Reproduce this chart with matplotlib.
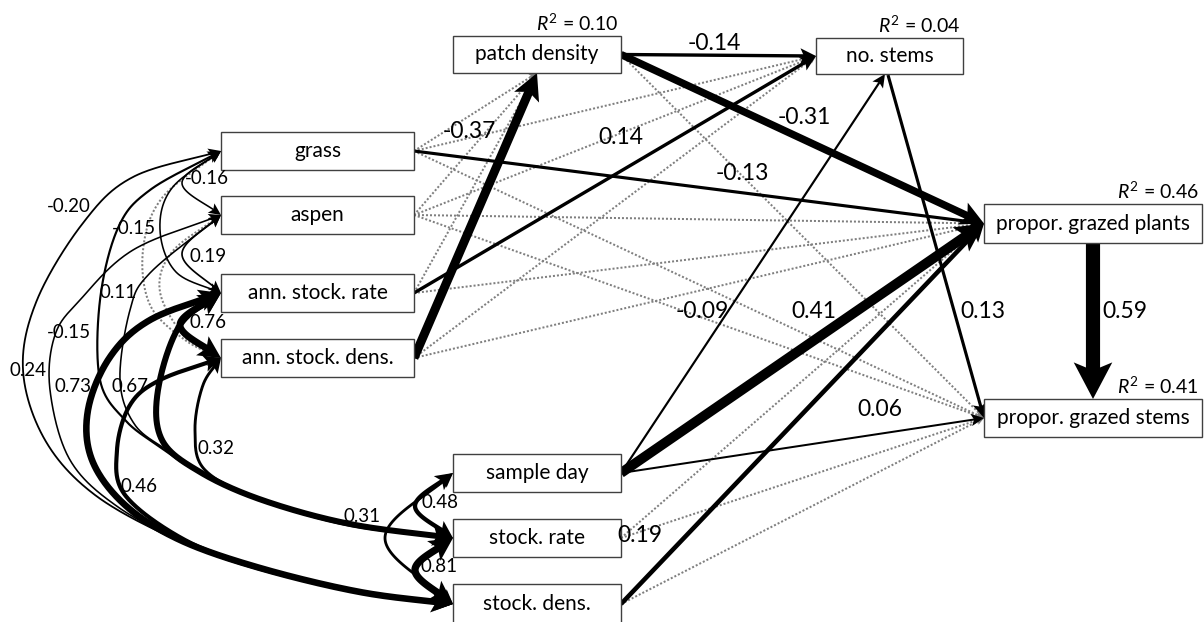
import numpy as np
import matplotlib
matplotlib.use("Agg")
import matplotlib.pyplot as plt
from matplotlib.patches import Rectangle, Polygon

plt.rcParams['font.family'] = ['Lato', 'DejaVu Sans']
plt.rcParams['mathtext.fontset'] = 'custom'
plt.rcParams['mathtext.it'] = 'Lato:italic'
plt.rcParams['mathtext.rm'] = 'Lato'

# ---- data -------------------------------------------------------------
variables = ['grass', 'aspen', 'ann. stock. rate', 'ann. stock. dens.',
             'patch density', 'no. stems', 'propor. grazed plants',
             'propor. grazed stems', 'sample day', 'stock. rate', 'stock. dens.']

r2_vars = ['patch density', 'no. stems', 'propor. grazed plants', 'propor. grazed stems']
r2_vals = [0.10, 0.04, 0.46, 0.41]

# directed paths (None = not significant, drawn dotted)
path_from = ['grass', 'grass', 'grass', 'grass',
             'aspen', 'aspen', 'aspen', 'aspen',
             'ann. stock. rate', 'ann. stock. rate', 'ann. stock. rate',
             'ann. stock. dens.', 'ann. stock. dens.', 'ann. stock. dens.',
             'patch density', 'patch density', 'patch density',
             'no. stems', 'propor. grazed plants',
             'sample day', 'sample day', 'sample day',
             'stock. rate', 'stock. rate',
             'stock. dens.', 'stock. dens.']
path_to = ['patch density', 'no. stems', 'propor. grazed plants', 'propor. grazed stems',
           'patch density', 'no. stems', 'propor. grazed plants', 'propor. grazed stems',
           'patch density', 'no. stems', 'propor. grazed plants',
           'patch density', 'no. stems', 'propor. grazed plants',
           'no. stems', 'propor. grazed plants', 'propor. grazed stems',
           'propor. grazed stems', 'propor. grazed stems',
           'no. stems', 'propor. grazed plants', 'propor. grazed stems',
           'propor. grazed plants', 'propor. grazed stems',
           'propor. grazed plants', 'propor. grazed stems']
path_coef = [None, None, -0.13, None,
             None, None, None, None,
             None, 0.14, None,
             -0.37, None, None,
             -0.14, -0.31, None,
             0.13, 0.59,
             -0.09, 0.41, 0.06,
             None, None,
             0.19, None]

# correlations between exogenous variables
corr_a = ['grass', 'aspen', 'ann. stock. rate', 'grass', 'grass', 'aspen',
          'sample day', 'stock. rate', 'sample day',
          'grass', 'grass', 'aspen', 'aspen',
          'ann. stock. rate', 'ann. stock. rate', 'ann. stock. dens.', 'ann. stock. dens.']
corr_b = ['aspen', 'ann. stock. rate', 'ann. stock. dens.', 'ann. stock. rate',
          'ann. stock. dens.', 'ann. stock. dens.',
          'stock. rate', 'stock. dens.', 'stock. dens.',
          'stock. dens.', 'stock. rate', 'stock. dens.', 'stock. rate',
          'stock. rate', 'stock. dens.', 'stock. rate', 'stock. dens.']
corr_r = [-0.16, 0.19, 0.76, -0.15, None, None,
          0.48, 0.81, 0.31,
          -0.20, 0.24, -0.15, 0.11,
          0.67, 0.73, 0.32, 0.46]

# ---- layout (pixel space, y down) ------------------------------------
boxes = {
    'grass': (221, 132, 414, 170),
    'aspen': (221, 196, 414, 234),
    'ann. stock. rate': (221, 274, 414, 312),
    'ann. stock. dens.': (221, 339, 414, 377),
    'patch density': (453, 36, 621, 73),
    'no. stems': (816, 38, 963, 74),
    'propor. grazed plants': (984, 204, 1202, 243),
    'propor. grazed stems': (984, 399, 1202, 437),
    'sample day': (453, 454, 621, 492),
    'stock. rate': (453, 519, 621, 557),
    'stock. dens.': (453, 584, 621, 624),
}

path_label_xy = {
    ('patch density', 'no. stems'): (714, 43),
    ('patch density', 'propor. grazed plants'): (804, 118),
    ('ann. stock. dens.', 'patch density'): (469, 132),
    ('ann. stock. rate', 'no. stems'): (621, 137),
    ('grass', 'propor. grazed plants'): (742, 173),
    ('sample day', 'no. stems'): (702, 312),
    ('sample day', 'propor. grazed plants'): (814, 312),
    ('no. stems', 'propor. grazed stems'): (983, 312),
    ('propor. grazed plants', 'propor. grazed stems'): (1125, 312),
    ('sample day', 'propor. grazed stems'): (880, 410),
    ('stock. dens.', 'propor. grazed plants'): (640, 535),
}

corr_waypoints = {
    ('grass', 'aspen'): [(182, 183)],
    ('aspen', 'ann. stock. rate'): [(182, 254)],
    ('ann. stock. rate', 'ann. stock. dens.'): [(180, 325)],
    ('grass', 'ann. stock. rate'): [(172, 188), (160, 230), (176, 272)],
    ('grass', 'ann. stock. dens.'): [(162, 198), (143, 250), (150, 305), (185, 340)],
    ('aspen', 'ann. stock. dens.'): [(172, 252), (160, 292), (186, 338)],
    ('sample day', 'stock. rate'): [(415, 506)],
    ('stock. rate', 'stock. dens.'): [(415, 570)],
    ('sample day', 'stock. dens.'): [(385, 538)],
    ('grass', 'stock. dens.'): [(133, 177), (83, 223), (37, 300), (23, 370), (45, 440),
                                (95, 495), (177, 540), (260, 570), (360, 592)],
    ('grass', 'stock. rate'): [(150, 190), (118, 228), (100, 300), (100, 380), (125, 420),
                               (160, 447), (200, 473), (260, 500), (350, 525)],
    ('aspen', 'stock. dens.'): [(133, 250), (80, 300), (55, 335), (50, 390), (70, 460),
                                (118, 507), (190, 545), (260, 568), (360, 591)],
    ('aspen', 'stock. rate'): [(150, 273), (130, 310), (120, 380), (135, 425), (170, 452),
                               (205, 476), (262, 501), (350, 526)],
    ('ann. stock. rate', 'stock. rate'): [(180, 325), (158, 390), (162, 440), (200, 472),
                                          (262, 500), (350, 524)],
    ('ann. stock. rate', 'stock. dens.'): [(150, 320), (110, 357), (88, 410), (92, 460),
                                           (125, 505), (180, 540), (260, 568), (360, 592)],
    ('ann. stock. dens.', 'stock. rate'): [(203, 385), (195, 430), (205, 470), (262, 500),
                                           (350, 524)],
    ('ann. stock. dens.', 'stock. dens.'): [(160, 380), (130, 405), (117, 450), (125, 495),
                                            (185, 540), (260, 568), (360, 592)],
}

corr_label_xy = {
    ('grass', 'aspen'): (207, 179),
    ('aspen', 'ann. stock. rate'): (208, 257),
    ('ann. stock. rate', 'ann. stock. dens.'): (208, 322),
    ('grass', 'ann. stock. rate'): (134, 228),
    ('sample day', 'stock. rate'): (440, 502),
    ('stock. rate', 'stock. dens.'): (439, 567),
    ('sample day', 'stock. dens.'): (362, 516),
    ('grass', 'stock. dens.'): (69, 206),
    ('grass', 'stock. rate'): (28, 370),
    ('aspen', 'stock. dens.'): (69, 332),
    ('aspen', 'stock. rate'): (118, 293),
    ('ann. stock. rate', 'stock. rate'): (130, 387),
    ('ann. stock. rate', 'stock. dens.'): (73, 387),
    ('ann. stock. dens.', 'stock. rate'): (216, 448),
    ('ann. stock. dens.', 'stock. dens.'): (139, 487),
}

PX = 0.72  # points per pixel at dpi 100
DOT_GREY = '#7f7f7f'


def center(name):
    x0, y0, x1, y1 = boxes[name]
    return (x0 + x1) / 2, (y0 + y1) / 2


def start_port(src, dst):
    x0, y0, x1, y1 = boxes[src]
    if src == 'propor. grazed plants':
        return (x0 + x1) / 2, y1
    if src == 'no. stems':
        return 888, y1 + 1
    return x1, (y0 + y1) / 2


def end_port(src, dst):
    x0, y0, x1, y1 = boxes[dst]
    if dst == 'patch density':
        return 537, y1
    if dst == 'no. stems' and src == 'sample day':
        return 885, y1
    if src == 'propor. grazed plants':
        return (x0 + x1) / 2, y0
    return x0, (y0 + y1) / 2


def smooth_points(points, n_seg=40):
    # Catmull-Rom through the points, sampled as a polyline
    P = np.array(points, float)
    n = len(P)
    if n == 2:
        t = np.linspace(0, 1, n_seg)[:, None]
        return P[0] + t * (P[1] - P[0])
    M = np.zeros_like(P)
    M[0] = P[1] - P[0]
    M[-1] = P[-1] - P[-2]
    for i in range(1, n - 1):
        M[i] = (P[i + 1] - P[i - 1]) / 2
    out = [P[:1]]
    t = np.linspace(0, 1, n_seg)[1:, None]
    for i in range(n - 1):
        b0, b1, b2, b3 = P[i], P[i] + M[i] / 3, P[i + 1] - M[i + 1] / 3, P[i + 1]
        seg = ((1 - t) ** 3) * b0 + 3 * ((1 - t) ** 2) * t * b1 + 3 * (1 - t) * t ** 2 * b2 + t ** 3 * b3
        out.append(seg)
    return np.vstack(out)


def point_back(poly, dist):
    # point at arc distance `dist` from the end of the polyline, and index before it
    seg = np.hypot(*np.diff(poly, axis=0).T)
    acc = 0.0
    for i in range(len(seg) - 1, -1, -1):
        if acc + seg[i] >= dist:
            f = (dist - acc) / seg[i]
            return poly[i + 1] + f * (poly[i] - poly[i + 1]), i
        acc += seg[i]
    return poly[0], 0


def head(ax, poly, hl, hw, color, z):
    tip = poly[-1]
    base, _ = point_back(poly, hl)
    u = (tip - base) / np.hypot(*(tip - base))
    nrm = np.array([-u[1], u[0]])
    notch = base + u * hl * 0.22
    ax.add_patch(Polygon([tip, base + nrm * hw, notch, base - nrm * hw], closed=True,
                         facecolor=color, edgecolor='none', zorder=z))


def draw_link(ax, pts, lw_px, color, both=False, dotted=False, z=2):
    poly = smooth_points(pts)
    if dotted:
        hl, hw = 8.0, 3.6
    else:
        hl, hw = 9 + 1.95 * lw_px, 4 + 1.08 * lw_px
    cut = hl * 0.75
    shaft = poly
    p_end, i_end = point_back(shaft, cut)
    shaft = np.vstack([shaft[:i_end + 1], p_end])
    if both:
        rev = shaft[::-1]
        p_st, i_st = point_back(rev, cut)
        shaft = np.vstack([rev[:i_st + 1], p_st])[::-1]
    ls = (0, (1, 1)) if dotted else '-'
    ax.plot(shaft[:, 0], shaft[:, 1], color=color, lw=lw_px * PX, ls=ls,
            solid_capstyle='butt', solid_joinstyle='round', zorder=z)
    head(ax, poly, hl, hw, color, z)
    if both:
        head(ax, poly[::-1], hl, hw, color, z)


fig = plt.figure(figsize=(12.04, 6.22), dpi=100)
ax = fig.add_axes([0, 0, 1, 1])
ax.set_xlim(0, 1204)
ax.set_ylim(622, 0)
ax.axis('off')

# boxes
for name in variables:
    x0, y0, x1, y1 = boxes[name]
    ax.add_patch(Rectangle((x0, y0), x1 - x0, y1 - y0, facecolor='white',
                           edgecolor='#404040', lw=1.0, zorder=5))
    cx, cy = center(name)
    ax.text(cx, cy, name, ha='center', va='center', fontsize=15, zorder=6)

for name, v in zip(r2_vars, r2_vals):
    x0, y0, x1, y1 = boxes[name]
    ax.text(x1 - 3, y0 - 13, f'$R^2$ = {v:.2f}', ha='right', va='center',
            fontsize=14, zorder=6)

# directed paths
for src, dst, b in zip(path_from, path_to, path_coef):
    pts = [start_port(src, dst), end_port(src, dst)]
    if b is None:
        draw_link(ax, pts, 2.0, DOT_GREY, dotted=True, z=1)
    else:
        draw_link(ax, pts, max(2.0, 24 * abs(b)), 'black', z=3)
        lx, ly = path_label_xy[(src, dst)]
        ax.text(lx, ly, f'{b:.2f}', ha='center', va='center', fontsize=16.5, zorder=7)

# correlations (double headed curves)
for a, b, r in zip(corr_a, corr_b, corr_r):
    xa0, ya0, xa1, ya1 = boxes[a]
    xb0, yb0, xb1, yb1 = boxes[b]
    pts = [(xa0, (ya0 + ya1) / 2)] + corr_waypoints[(a, b)] + [(xb0, (yb0 + yb1) / 2)]
    if r is None:
        draw_link(ax, pts, 2.0, DOT_GREY, both=True, dotted=True, z=1)
    else:
        draw_link(ax, pts, max(1.6, 9 * abs(r)), 'black', both=True, z=2)
        lx, ly = corr_label_xy[(a, b)]
        ax.text(lx, ly, f'{r:.2f}', ha='center', va='center', fontsize=13.5, zorder=7)

fig.savefig('out.png', dpi=100)
